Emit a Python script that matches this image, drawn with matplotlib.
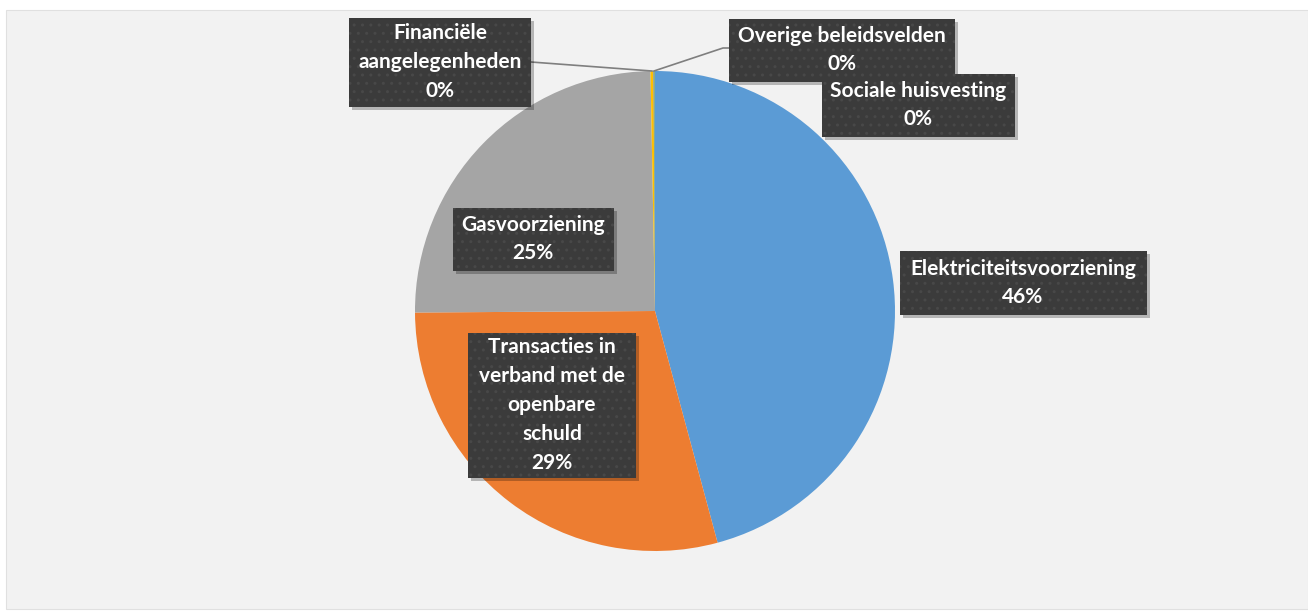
import numpy as np
import matplotlib.pyplot as plt
from matplotlib.patches import Rectangle

plt.rcParams['font.family'] = ['Lato', 'DejaVu Sans']

# uitgaven per beleidsveld (aandeel in %)
labels = ["Elektriciteitsvoorziening",
          "Transacties in\nverband met de\nopenbare\nschuld",
          "Gasvoorziening",
          "Financiële\naangelegenheden",
          "Overige beleidsvelden",
          "Sociale huisvesting"]
values = [45.8, 29.1, 24.8, 0.2, 0.06, 0.04]
colors = ["#5B9BD5", "#ED7D31", "#A5A5A5", "#FFC000", "#4472C4", "#70AD47"]

W, H = 1308, 611
fig = plt.figure(figsize=(W / 100, H / 100), dpi=100)
ax = fig.add_axes([0, 0, 1, 1])

# grijze achtergrond van het grafiekgebied
ax.add_patch(Rectangle((6, 2), W - 6, H - 12, facecolor="#F2F2F2",
                       edgecolor="#E0E0E0", linewidth=0.8, zorder=0))

cx, cy, r = 655, H - 311, 240
wedges, _ = ax.pie(values, colors=colors, startangle=90, counterclock=False,
                   center=(cx, cy), radius=r, frame=True,
                   wedgeprops=dict(linewidth=0, zorder=2))
ax.set_xlim(0, W)
ax.set_ylim(0, H)
ax.set_aspect("equal")
ax.axis("off")

# plaats van de labelvakken (midden, breedte, hoogte) in pixels
boxes = [(1023, 283, 247, 64),
         (552, 405, 168, 145),
         (533, 239, 161, 63),
         (440, 62, 182, 89),
         (842, 50, 226, 63),
         (918, 105, 193, 63)]

for i, (lab, v) in enumerate(zip(labels, values)):
    bx, by, bw, bh = boxes[i]
    by = H - by
    # leader lines for the thin slices at the top
    if i in (3, 4):
        w = wedges[i]
        ang = np.deg2rad((w.theta1 + w.theta2) / 2)
        px, py = cx + r * np.cos(ang), cy + r * np.sin(ang)
        if i == 3:
            ax.plot([px, bx + bw / 2], [py, by], color="#7F7F7F", lw=1.2, zorder=3)
        else:
            ax.plot([px, bx - bw / 2 - 6, bx - bw / 2], [py, by + 2, by + 2],
                    color="#7F7F7F", lw=1.2, zorder=3)
    # schaduw
    ax.add_patch(Rectangle((bx - bw / 2 + 3, by - bh / 2 - 3), bw, bh,
                           facecolor="#000000", alpha=0.25, linewidth=0, zorder=4))
    ax.add_patch(Rectangle((bx - bw / 2, by - bh / 2), bw, bh,
                           facecolor="#3B3B3B", linewidth=0, zorder=5))
    ax.add_patch(Rectangle((bx - bw / 2, by - bh / 2), bw, bh, fill=False,
                           hatch="..", edgecolor="#484848", linewidth=0, zorder=5))
    ax.text(bx, by, f"{lab}\n{round(v)}%", ha="center", va="center",
            color="white", fontsize=15, fontweight="bold", linespacing=1.55,
            zorder=6)

fig.savefig("out.png", dpi=100, facecolor="white")
